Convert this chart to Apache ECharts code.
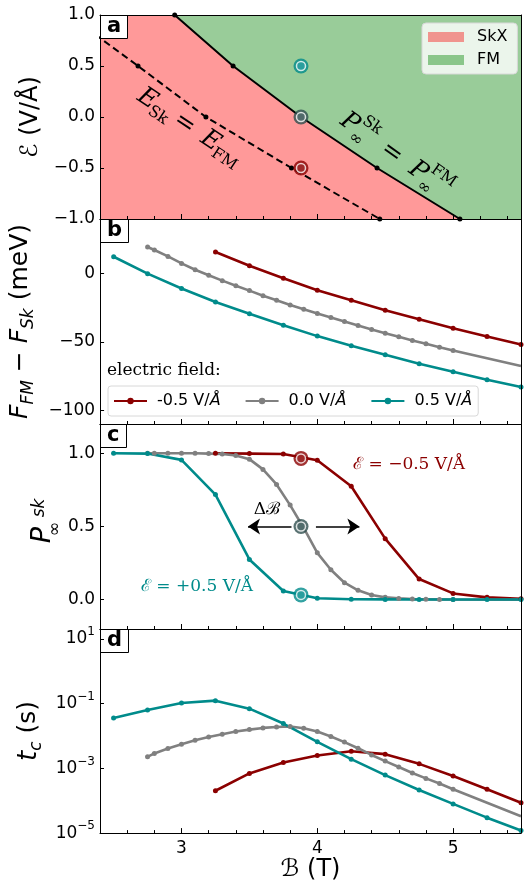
<!DOCTYPE html>
<html><head><meta charset="utf-8">
<script src="https://cdn.jsdelivr.net/npm/echarts@6/dist/echarts.min.js"></script>
<style>html,body{margin:0;padding:0;background:#fff}#c{width:529px;height:883px}</style>
</head><body><div id="c"></div>
<script>
// ------------------ data ------------------
// shared x axis (magnetic field B, T)
const X_MIN = 2.4, X_MAX = 5.5;
const X_MAJOR = [3, 4, 5];
const X_MINOR = [2.6, 2.8, 3.2, 3.4, 3.6, 3.8, 4.2, 4.4, 4.6, 4.8, 5.2, 5.4];

// panel a : phase diagram
const E_MIN = -1, E_MAX = 1;
const E_TICKS = [-1, -0.5, 0, 0.5, 1];
const boundaryB = [2.95, 3.38, 3.88, 4.44, 5.05];   // P_inf^Sk = P_inf^FM
const boundaryE = [1.0, 0.5, 0.0, -0.5, -1.0];
const energyB = [2.17, 2.68, 3.18, 3.81, 4.46];     // E_Sk = E_FM
const energyE = [1.0, 0.5, 0.0, -0.5, -1.0];
const markerB = 3.88;
const markerE = [0.5, 0.0, -0.5];

// series (electric field)
const fieldNames = ['-0.5 V/Å', '0.0 V/Å', '0.5 V/Å'];

const redB = [3.25, 3.5, 3.75, 4.0, 4.25, 4.5, 4.75, 5.0, 5.25, 5.5];
const redF = [15.8, 5.8, -3.4, -12.2, -19.5, -26.8, -33.3, -39.9, -46.0, -51.8];
const redP = [1.0, 0.998, 0.995, 0.952, 0.775, 0.417, 0.141, 0.043, 0.016, 0.007];
const redT = [2.04e-4, 7.0e-4, 1.53e-3, 2.5e-3, 3.4e-3, 2.75e-3, 1.38e-3, 5.8e-4, 2.26e-4, 8.7e-5];

const grayB = [2.75, 2.8, 2.9, 3.0, 3.1, 3.2, 3.3, 3.4, 3.5, 3.6, 3.7, 3.8, 3.9, 4.0, 4.1, 4.2, 4.3, 4.4, 4.5, 4.6, 4.7, 4.8, 4.9, 5.0, 5.5];
const grayF = [19.5, 17.3, 12.6, 7.5, 2.9, -1.2, -5.1, -8.8, -12.4, -16.1, -19.5, -22.9, -26.0, -29.2, -32.1, -35.0, -38.0, -40.9, -43.6, -46.2, -48.9, -51.3, -53.8, -56.2, -67.6];
const grayP = [1.0, 1.0, 1.0, 1.0, 1.0, 0.998, 0.995, 0.985, 0.96, 0.89, 0.787, 0.646, 0.49, 0.32, 0.205, 0.116, 0.064, 0.032, 0.016, 0.009, 0.005, 0.003, 0.002, 0.001, 0.0];
const grayT = [2.28e-3, 2.9e-3, 4.1e-3, 5.6e-3, 7.4e-3, 9.3e-3, 0.0114, 0.0138, 0.0158, 0.0178, 0.019, 0.0196, 0.0174, 0.0138, 0.0097, 0.0065, 0.0042, 0.0026, 0.00168, 0.0011, 7.2e-4, 4.9e-4, 3.4e-4, 2.26e-4, 3.3e-5];

const tealB = [2.5, 2.75, 3.0, 3.25, 3.5, 3.75, 4.0, 4.25, 4.5, 4.75, 5.0, 5.25, 5.5];
const tealF = [12.4, 0.0, -10.9, -20.7, -29.4, -37.7, -45.7, -52.8, -59.3, -65.9, -71.8, -77.6, -83.0];
const tealP = [1.0, 0.998, 0.955, 0.718, 0.275, 0.06, 0.01, 0.003, 0.002, 0.001, 0.001, 0.001, 0.001];
const tealT = [0.036, 0.0635, 0.105, 0.124, 0.070, 0.0243, 0.0066, 0.00193, 6.2e-4, 2.15e-4, 8.0e-5, 3.0e-5, 1.2e-5];

// panel b / c / d axis ticks
const F_MIN = -110, F_MAX = 40, F_TICKS = [-100, -50, 0];
const P_MIN = -0.2, P_MAX = 1.2, P_TICKS = [0, 0.5, 1];
const T_MIN = 1e-5, T_MAX = 20.3;

// highlighted points in panel c
const markerP = [0.965, 0.5, 0.033];
// arrows in panel c (Delta B)
const ARROWS = [[[3.81, 0.5], [3.49, 0.5]], [[3.99, 0.5], [4.31, 0.5]]];

// ------------------ style ------------------
const FONT = 'DejaVu Sans', SERIF = 'DejaVu Serif';
const RED = '#8B0000', GRAY = '#808080', TEAL = '#008B8B', SLATE = '#2F4F4F';
const PINK = '#FF9999', GREEN = '#99CC99';
const GRID_TOP = [15, 219, 424, 629];
const GRID_H = [204, 205, 205, 205];
const AXIS_Z = 10;

const zip = (xs, ys) => xs.map((x, i) => [x, ys[i]]);
const num1 = v => (v < 0 ? '−' : '') + Math.abs(v).toFixed(1);
const num0 = v => (v < 0 ? '−' : '') + Math.abs(v);

const grid = GRID_TOP.map((t, i) => ({left: 100, width: 421, top: t, height: GRID_H[i], show: false}));

const xAxis = [];
for (let i = 0; i < 4; i++) {
  const common = {gridIndex: i, type: 'value', min: X_MIN, max: X_MAX, splitLine: {show: false}, z: AXIS_Z};
  xAxis.push({...common, position: 'bottom',
    axisLine: {show: true, onZero: false, lineStyle: {color: '#000', width: 1}},
    axisTick: {show: true, inside: true, length: 5, customValues: X_MAJOR, lineStyle: {color: '#000', width: 1}},
    axisLabel: {show: i === 3, customValues: X_MAJOR, color: '#000', fontSize: 17, fontFamily: FONT, margin: 7},
    name: i === 3 ? 'ℬ (T)' : '', nameLocation: 'middle', nameGap: 22,
    nameTextStyle: {fontSize: 24, fontFamily: FONT, color: '#000'}});
  xAxis.push({...common, position: 'bottom',
    axisLine: {show: false, onZero: false},
    axisTick: {show: true, inside: true, length: 3, customValues: X_MINOR, lineStyle: {color: '#000', width: 1}},
    axisLabel: {show: false}});
  xAxis.push({...common, position: 'top',
    axisLine: {show: true, onZero: false, lineStyle: {color: '#000', width: 1}},
    axisTick: {show: false}, axisLabel: {show: false}});
}

const yLabel = {color: '#000', fontSize: 17, fontFamily: FONT, margin: 5};
const yTick = {show: true, inside: true, length: 4, lineStyle: {color: '#000', width: 1}};
const yLine = {show: true, onZero: false, lineStyle: {color: '#000', width: 1}};
const yCfg = [
  {type: 'value', min: E_MIN, max: E_MAX,
   axisTick: {...yTick, customValues: E_TICKS},
   axisLabel: {...yLabel, customValues: E_TICKS, formatter: num1},
   name: '{s|ℰ} (V/Å)', nameGap: 54,
   nameTextStyle: {fontSize: 24, fontFamily: FONT, color: '#000', rich: {s: {fontSize: 24, fontFamily: FONT}}}},
  {type: 'value', min: F_MIN, max: F_MAX,
   axisTick: {...yTick, customValues: F_TICKS},
   axisLabel: {...yLabel, customValues: F_TICKS, formatter: num0},
   name: '{i|F}{sub|FM}{n| − }{i|F}{sub|Sk}{n| (meV)}', nameGap: 58,
   nameTextStyle: {fontSize: 24, fontFamily: FONT, color: '#000', rich: {
     i: {fontSize: 25, fontStyle: 'italic', fontFamily: FONT, lineHeight: 34, verticalAlign: 'middle'},
     n: {fontSize: 25, fontFamily: FONT, lineHeight: 34, verticalAlign: 'middle'},
     sub: {fontSize: 17, fontStyle: 'italic', fontFamily: FONT, lineHeight: 17, verticalAlign: 'bottom'}}}},
  {type: 'value', min: P_MIN, max: P_MAX,
   axisTick: {...yTick, customValues: P_TICKS},
   axisLabel: {...yLabel, customValues: P_TICKS, formatter: num1}},
  {type: 'log', logBase: 10, min: T_MIN, max: T_MAX, interval: 2,
   axisTick: {...yTick},
   axisLabel: {...yLabel, lineHeight: 26,
     formatter: v => { const e = Math.round(Math.log10(v)); if (Math.abs(e) % 2 !== 1) return ''; return '10{sup|' + (e < 0 ? '−' + (-e) : e) + '}'; },
     rich: {sup: {fontSize: 12, fontFamily: FONT, color: '#000', lineHeight: 12, verticalAlign: 'top'}}},
   name: '{i|t}{sub|c}{n| (s)}', nameGap: 52,
   nameTextStyle: {fontSize: 24, fontFamily: FONT, color: '#000', rich: {
     i: {fontSize: 26, fontStyle: 'italic', fontFamily: FONT, lineHeight: 32, verticalAlign: 'middle'},
     n: {fontSize: 25, fontFamily: FONT, lineHeight: 32, verticalAlign: 'middle'},
     sub: {fontSize: 17, fontStyle: 'italic', fontFamily: FONT, lineHeight: 17, verticalAlign: 'bottom'}}}}
];
const yAxis = [];
yCfg.forEach((c, i) => {
  yAxis.push({...c, gridIndex: i, position: 'left', axisLine: yLine, splitLine: {show: false}, z: AXIS_Z,
    nameLocation: 'middle', nameRotate: 90});
  yAxis.push({gridIndex: i, type: c.type, logBase: c.logBase, min: c.min, max: c.max, position: 'right',
    axisLine: yLine, axisTick: {show: false}, axisLabel: {show: false}, splitLine: {show: false}, z: AXIS_Z});
});

const series = [];
// panel a: regions
series.push({name: 'SkX', type: 'line', xAxisIndex: 0, yAxisIndex: 0, silent: true, z: 1,
  data: [[X_MIN, E_MAX]].concat(zip(boundaryB, boundaryE)),
  showSymbol: false, symbol: 'none', lineStyle: {width: 0, opacity: 0},
  itemStyle: {color: '#F0948E'}, areaStyle: {color: PINK, opacity: 1, origin: 'start'}});
series.push({name: 'FM', type: 'line', xAxisIndex: 0, yAxisIndex: 0, silent: true, z: 1,
  data: zip(boundaryB, boundaryE).concat([[X_MAX, E_MIN]]),
  showSymbol: false, symbol: 'none', lineStyle: {width: 0, opacity: 0},
  itemStyle: {color: '#8AC68A'}, areaStyle: {color: GREEN, opacity: 1, origin: 'end'}});
series.push({type: 'line', xAxisIndex: 0, yAxisIndex: 0, z: 3, data: zip(boundaryB, boundaryE),
  symbol: 'circle', symbolSize: 5, itemStyle: {color: '#000'}, lineStyle: {color: '#000', width: 2}});
series.push({type: 'line', xAxisIndex: 0, yAxisIndex: 0, z: 3, data: zip(energyB, energyE),
  symbol: 'circle', symbolSize: 5, itemStyle: {color: '#000'}, lineStyle: {color: '#000', width: 2, type: [7, 4]}});

function rings(gi, pts, cols) {
  const mk = (size, colFn, z) => ({type: 'scatter', xAxisIndex: 3 * gi, yAxisIndex: 2 * gi, z, silent: true,
    symbol: 'circle', symbolSize: size,
    data: pts.map((p, k) => ({value: p, itemStyle: {color: colFn(k)}}))});
  series.push(mk(15, k => cols[k], 5), mk(10.5, () => '#fff', 6), mk(7.5, k => cols[k], 7));
}
rings(0, markerE.map(e => [markerB, e]), [TEAL, SLATE, RED]);

// panels b, c, d
const sets = [
  {name: fieldNames[0], color: RED, B: redB, F: redF, P: redP, T: redT},
  {name: fieldNames[1], color: GRAY, B: grayB, F: grayF, P: grayP, T: grayT},
  {name: fieldNames[2], color: TEAL, B: tealB, F: tealF, P: tealP, T: tealT}
];
const panels = [['F', 1], ['P', 2], ['T', 3]];
panels.forEach(([key, gi]) => {
  sets.forEach(s => {
    const data = s.B.map((b, k) => {
      const item = {value: [b, s[key][k]]};
      if (s.color === GRAY && b > 5.0) item.symbol = 'none';
      return item;
    });
    const ser = {name: s.name, type: 'line', xAxisIndex: 3 * gi, yAxisIndex: 2 * gi, z: 3,
      data, symbol: 'circle', symbolSize: 5, showAllSymbol: true,
      itemStyle: {color: s.color}, lineStyle: {color: s.color, width: 2.6}};
    if (key === 'P' && s.color === GRAY) {
      ser.markLine = {silent: true, symbol: ['none', 'arrow'], symbolSize: 12, animation: false,
        lineStyle: {color: '#000', width: 1.5, type: 'solid'}, label: {show: false},
        data: ARROWS.map(a => [{coord: a[0]}, {coord: a[1]}])};
    }
    series.push(ser);
  });
});
rings(2, markerP.map(p => [markerB, p]), [RED, SLATE, TEAL]);

const labelBox = (t, top) => ({text: t, left: 100, top: top, padding: [1, 7, 1, 7],
  backgroundColor: '#fff', borderColor: '#000', borderWidth: 1,
  textStyle: {fontSize: 21, fontWeight: 'bold', fontFamily: FONT, color: '#000', lineHeight: 22}});

const option = {
  animation: false,
  backgroundColor: '#fff',
  grid, xAxis, yAxis, series,
  title: [labelBox('a', GRID_TOP[0]), labelBox('b', GRID_TOP[1]), labelBox('c', GRID_TOP[2]), labelBox('d', GRID_TOP[3]),
    {text: 'electric field:', left: 107, top: 362, padding: 0,
     textStyle: {fontSize: 17, fontWeight: 'normal', fontFamily: SERIF, color: '#000'}}],
  legend: [
    {data: [{name: 'SkX', icon: 'rect'}, {name: 'FM', icon: 'rect'}], orient: 'vertical', left: 422, top: 23,
     itemWidth: 36, itemHeight: 10, itemGap: 7, padding: [6, 10, 6, 6],
     backgroundColor: 'rgba(255,255,255,0.8)', borderColor: '#d8d8d8', borderWidth: 1, borderRadius: 4,
     textStyle: {fontSize: 16, fontFamily: FONT, color: '#000', padding: [0, 0, 0, 8]}, selectedMode: false},
    {data: fieldNames, orient: 'horizontal', left: 108, top: 386,
     itemWidth: 33, itemHeight: 8, itemGap: 24, padding: [7, 6, 7, 5],
     backgroundColor: 'rgba(255,255,255,0.8)', borderColor: '#d8d8d8', borderWidth: 1, borderRadius: 3,
     formatter: n => n.replace('Å', '{i|Å}'),
     textStyle: {fontSize: 16, fontFamily: FONT, color: '#000', padding: [0, 0, 0, 5],
       rich: {i: {fontSize: 16, fontFamily: FONT, fontStyle: 'italic', color: '#000'}}}, selectedMode: false}
  ]
};

const chart = echarts.init(document.getElementById('c'));
chart.setOption(option);

// annotations (anchored in data coordinates)
const ANNOT = {
  eLine: {grid: 0, at: [3.096, -0.13], rot: -33.6},
  pLine: {grid: 0, at: [4.596, -0.395], rot: -35.4},
  redLabel: {grid: 2, at: [4.676, 0.923]},
  tealLabel: {grid: 2, at: [3.114, 0.089]},
  dB: {grid: 2, at: [3.629, 0.615]}
};
const px = a => chart.convertToPixel({gridIndex: a.grid}, a.at);
const deg = d => d * Math.PI / 180;
const T = (text, x, y, font, fill, align) => ({type: 'text', x, y, z: 50,
  style: {text, font, fill: fill || '#000', align: align || 'left', verticalAlign: 'middle'}});

const eP = px(ANNOT.eLine), pP = px(ANNOT.pLine);
const it24 = 'italic 25px ' + SERIF, up16 = '16px ' + SERIF, up24 = '25px ' + SERIF;
const graphic = [
  {type: 'group', x: eP[0], y: eP[1], rotation: deg(ANNOT.eLine.rot), z: 50, children: [
    T('E', -66, 0, it24), T('Sk', -49, 8, up16), T('=', -12, 0, up24, '#000', 'center'),
    T('E', 10, 0, it24), T('FM', 27, 8, up16)]},
  {type: 'group', x: pP[0], y: pP[1], rotation: deg(ANNOT.pLine.rot), z: 50, children: [
    T('P', -68, 0, it24), T('Sk', -50, -11, up16), T('∞', -52, 10, up16),
    T('=', -8, 0, up24, '#000', 'center'),
    T('P', 16, 0, it24), T('FM', 34, -11, up16), T('∞', 32, 10, up16)]},
  {type: 'group', x: 44, y: 524, rotation: Math.PI / 2, z: 50, children: [
    T('P', -11, -1, 'italic 27px ' + FONT, '#000', 'center'),
    T('sk', 16, -4, 'italic 17px ' + FONT, '#000', 'center'),
    T('∞', -5, 11, '18px ' + FONT, '#000', 'center')]},
  (() => { const p = px(ANNOT.redLabel); return T('ℰ = −0.5 V/Å', p[0], p[1], '17px ' + SERIF, RED, 'center'); })(),
  (() => { const p = px(ANNOT.tealLabel); return T('ℰ = +0.5 V/Å', p[0], p[1], '17px ' + SERIF, TEAL, 'center'); })(),
  (() => { const p = px(ANNOT.dB); return T('Δℬ', p[0], p[1], '17px ' + SERIF, '#000', 'center'); })()
];
chart.setOption({graphic});
</script></body></html>
